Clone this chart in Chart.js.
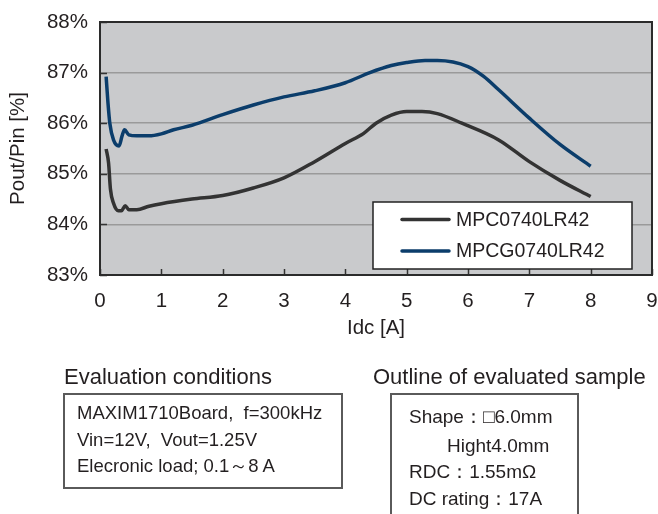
<!DOCTYPE html>
<html>
<head>
<meta charset="utf-8">
<script src="https://cdn.jsdelivr.net/npm/chart.js@4/dist/chart.umd.min.js"></script>
<style>
  html, body { margin: 0; padding: 0; background: #ffffff; }
  body { width: 658px; height: 514px; position: relative; overflow: hidden;
         font-family: "Liberation Sans", Arial, sans-serif; color: #231f20; }
  #wrap { position: absolute; left: 0; top: 0; width: 658px; height: 514px; }
  .t { position: absolute; white-space: pre; line-height: 1; }
  .box { position: absolute; border: 2px solid #5a5a5a; box-sizing: border-box; }
</style>
</head>
<body>
<div id="wrap"><canvas id="c" width="658" height="514"></canvas></div>

<div class="t" style="left:64px; top:366px; font-size:22px;">Evaluation conditions</div>
<div class="box" style="left:63px; top:393px; width:280px; height:96px;"></div>
<div class="t" style="left:77px; top:404px; font-size:18.5px;">MAXIM1710Board,  f=300kHz</div>
<div class="t" style="left:77px; top:431px; font-size:18.5px;">Vin=12V,  Vout=1.25V</div>
<div class="t" style="left:77px; top:457px; font-size:18.5px;">Elecronic load; 0.1～8 A</div>

<div class="t" style="left:373px; top:366px; font-size:22px;">Outline of evaluated sample</div>
<div class="box" style="left:390px; top:393px; width:189px; height:140px;"></div>
<div class="t" style="left:409px; top:407px; font-size:19px;">Shape：□6.0mm</div>
<div class="t" style="left:447px; top:436px; font-size:19px;">Hight4.0mm</div>
<div class="t" style="left:409px; top:462px; font-size:19px;">RDC：1.55mΩ</div>
<div class="t" style="left:409px; top:489px; font-size:19px;">DC rating：17A</div>

<script>
// ---- data ----
const seriesNames = ["MPC0740LR42", "MPCG0740LR42"];
const seriesColors = ["#333333", "#0b3d6b"];

const idcBlack = [0.1, 0.14, 0.17, 0.22, 0.3, 0.35, 0.41, 0.47, 0.6, 0.8, 1.0, 1.5, 2.0, 2.5, 3.0, 3.5, 4.0, 4.3, 4.5, 4.75, 5.0, 5.25, 5.5, 5.9, 6.5, 7.0, 7.5, 8.0];
const effBlack = [85.49, 85.21, 84.70, 84.42, 84.27, 84.27, 84.37, 84.29, 84.29, 84.36, 84.41, 84.50, 84.57, 84.72, 84.92, 85.24, 85.60, 85.80, 86.00, 86.16, 86.23, 86.23, 86.19, 86.00, 85.67, 85.24, 84.87, 84.55];

const idcBlue = [0.1, 0.13, 0.16, 0.22, 0.31, 0.36, 0.4, 0.47, 0.6, 0.8, 1.0, 1.2, 1.5, 2.0, 2.5, 3.0, 3.5, 4.0, 4.4, 4.75, 5.0, 5.3, 5.5, 6.0, 6.25, 6.5, 7.0, 7.5, 8.0];
const effBlue = [86.92, 86.40, 86.00, 85.67, 85.55, 85.75, 85.87, 85.77, 85.75, 85.75, 85.79, 85.87, 85.96, 86.17, 86.36, 86.52, 86.64, 86.80, 87.00, 87.14, 87.20, 87.24, 87.24, 87.12, 86.93, 86.66, 86.10, 85.58, 85.15];

const xTicks = [0, 1, 2, 3, 4, 5, 6, 7, 8, 9];
const yTicks = [83, 84, 85, 86, 87, 88];
const xTitle = "Idc [A]";
const yTitle = "Pout/Pin [%]";

const FONT = "'Liberation Sans', Arial, sans-serif";
const TXT = "#231f20";

const toPts = (xs, ys) => xs.map((x, i) => ({ x: x, y: ys[i] }));

const frame = {
  id: 'frame',
  beforeDatasetsDraw(chart) {
    const { ctx, chartArea: a, scales } = chart;
    ctx.save();
    // inward tick marks
    ctx.strokeStyle = '#333333';
    ctx.lineWidth = 1.5;
    xTicks.forEach(v => {
      const px = Math.round(scales.x.getPixelForValue(v)) + 0.5;
      ctx.beginPath(); ctx.moveTo(px, a.bottom); ctx.lineTo(px, a.bottom - 6); ctx.stroke();
    });
    yTicks.forEach(v => {
      const py = Math.round(scales.y.getPixelForValue(v)) + 0.5;
      ctx.beginPath(); ctx.moveTo(a.left, py); ctx.lineTo(a.left + 7, py); ctx.stroke();
    });
    ctx.restore();
  },
  afterDraw(chart) {
    const { ctx, chartArea: a } = chart;
    ctx.save();
    // plot frame
    ctx.strokeStyle = '#2b2b2b';
    ctx.lineWidth = 2;
    ctx.strokeRect(a.left, a.top, a.right - a.left, a.bottom - a.top);
    // legend box
    const lx = 373, ly = 202, lw = 259, lh = 67;
    ctx.fillStyle = '#ffffff';
    ctx.fillRect(lx, ly, lw, lh);
    ctx.strokeStyle = '#222222';
    ctx.lineWidth = 1.5;
    ctx.strokeRect(lx, ly, lw, lh);
    chart.data.datasets.forEach((ds, i) => {
      const y = 219.5 + i * 31.5;
      ctx.strokeStyle = ds.borderColor;
      ctx.lineWidth = 3.5;
      ctx.lineCap = 'round';
      ctx.beginPath(); ctx.moveTo(402, y); ctx.lineTo(449, y); ctx.stroke();
      ctx.fillStyle = TXT;
      ctx.font = "19.5px " + FONT;
      ctx.textBaseline = 'middle';
      ctx.textAlign = 'left';
      ctx.fillText(ds.label, 456, y + 1);
    });
    ctx.restore();
  }
};

const bg = {
  id: 'bg',
  beforeDraw(chart) {
    const { ctx, chartArea: a } = chart;
    ctx.save();
    ctx.fillStyle = '#c9cacc';
    ctx.fillRect(a.left, a.top, a.right - a.left, a.bottom - a.top);
    ctx.restore();
  }
};

new Chart(document.getElementById('c'), {
  type: 'line',
  data: {
    datasets: [
      { label: seriesNames[0], data: toPts(idcBlack, effBlack), borderColor: seriesColors[0], borderWidth: 3.5,
        pointRadius: 0, tension: 0.4, cubicInterpolationMode: 'monotone', fill: false },
      { label: seriesNames[1], data: toPts(idcBlue, effBlue), borderColor: seriesColors[1], borderWidth: 3.5,
        pointRadius: 0, tension: 0.4, cubicInterpolationMode: 'monotone', fill: false }
    ]
  },
  options: {
    responsive: false,
    animation: false,
    devicePixelRatio: 1,
    layout: { padding: { left: 0, right: 6, top: 22, bottom: 169 } },
    plugins: { legend: { display: false }, tooltip: { enabled: false } },
    scales: {
      x: {
        type: 'linear', min: 0, max: 9,
        afterBuildTicks: s => { s.ticks = xTicks.map(v => ({ value: v })); },
        afterFit: s => { s.height = 70; s.paddingLeft = 0; s.paddingRight = 0; },
        grid: { display: false, drawTicks: false },
        border: { display: false },
        ticks: { color: TXT, font: { family: FONT, size: 20.5 }, padding: 14, maxRotation: 0 },
        title: { display: true, text: xTitle, color: TXT, font: { family: FONT, size: 20.5 }, padding: { top: 4, bottom: 4 } }
      },
      y: {
        type: 'linear', min: 83, max: 88,
        afterBuildTicks: s => { s.ticks = yTicks.map(v => ({ value: v })); },
        afterFit: s => { s.width = 100; s.paddingTop = 0; s.paddingBottom = 0; },
        grid: { color: '#9a9a9a', lineWidth: 1.5, drawTicks: false },
        border: { display: false },
        ticks: { color: TXT, font: { family: FONT, size: 20.5 }, padding: 12, callback: v => v + '%' },
        title: { display: true, text: yTitle, color: TXT, font: { family: FONT, size: 20.5 }, padding: { top: 6, bottom: 4 } }
      }
    }
  },
  plugins: [bg, frame]
});
</script>
</body>
</html>
